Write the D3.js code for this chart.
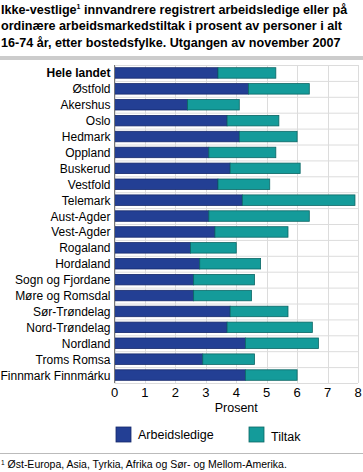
<!DOCTYPE html>
<html>
<head>
<meta charset="utf-8">
<script src="https://cdn.jsdelivr.net/npm/d3@7"></script>
<style>
  body { margin: 0; background: #fff; }
  svg { display: block; font-family: "Liberation Sans", Arial, sans-serif; }
</style>
</head>
<body>
<svg id="chart" width="363" height="472"></svg>
<script>
"use strict";

// Data
const fylker = [
  "Hele landet", "Østfold", "Akershus", "Oslo", "Hedmark", "Oppland",
  "Buskerud", "Vestfold", "Telemark", "Aust-Agder", "Vest-Agder", "Rogaland",
  "Hordaland", "Sogn og Fjordane", "Møre og Romsdal", "Sør-Trøndelag",
  "Nord-Trøndelag", "Nordland", "Troms Romsa", "Finnmark Finnmárku"
];
const arbeidsledige = [3.4, 4.4, 2.4, 3.7, 4.1, 3.1, 3.8, 3.4, 4.2, 3.1, 3.3, 2.5, 2.8, 2.6, 2.6, 3.8, 3.7, 4.3, 2.9, 4.3];
const tiltak        = [1.9, 2.0, 1.7, 1.7, 1.9, 2.2, 2.3, 1.7, 3.7, 3.3, 2.4, 1.5, 2.0, 2.0, 1.9, 1.9, 2.8, 2.4, 1.7, 1.7];
const xTicks = [0, 1, 2, 3, 4, 5, 6, 7, 8];

const seriesNames = ["Arbeidsledige", "Tiltak"];
const colors = ["#233f94", "#149b9a"];
const strokes = ["#16286a", "#0b6664"];

const svg = d3.select("#chart");

// ── Title ──
const titleLines = [
  ["Ikke-vestlige", "1", " innvandrere registrert arbeidsledige eller på"],
  ["ordinære arbeidsmarkedstiltak i prosent av personer i alt"],
  ["16-74 år, etter bostedsfylke. Utgangen av november 2007"]
];
titleLines.forEach((parts, i) => {
  const t = svg.append("text")
    .attr("x", 1).attr("y", 13.5 + i * 16.5)
    .attr("font-size", "12.6px").attr("font-weight", "bold").attr("fill", "#000");
  if (parts.length === 3) {
    t.append("tspan").text(parts[0]);
    t.append("tspan").attr("font-size", "7px").attr("dy", -5).text(parts[1]);
    t.append("tspan").attr("dy", 5).text(parts[2]);
  } else {
    t.text(parts[0]);
  }
});
svg.append("rect").attr("x", 0).attr("y", 56).attr("width", 363).attr("height", 4).attr("fill", "#cccccc");

// ── Plot ──
const x0 = 114.5, x1 = 358, yTop = 65, yBot = 383;
const x = d3.scaleLinear().domain([0, 8]).range([x0, x1]);
const y = d3.scaleBand().domain(fylker).range([yTop, yBot]).paddingInner(0.34).paddingOuter(0.17);

const g = svg.append("g");

// horizontal grid at band boundaries
const step = y.step();
g.selectAll(".hgrid").data(d3.range(fylker.length + 1)).join("line")
  .attr("x1", x0).attr("x2", x1)
  .attr("y1", i => yTop + i * step + 0.5).attr("y2", i => yTop + i * step + 0.5)
  .attr("stroke", "#dcdcdc").attr("stroke-width", 1);

// vertical grid
g.selectAll(".vgrid").data(xTicks).join("line")
  .attr("x1", d => Math.round(x(d)) + 0.5).attr("x2", d => Math.round(x(d)) + 0.5)
  .attr("y1", yTop).attr("y2", yBot)
  .attr("stroke", "#dcdcdc").attr("stroke-width", 1);

// stacked bars
const rows = fylker.map((f, i) => ({ f, vals: [arbeidsledige[i], tiltak[i]] }));
rows.forEach(r => {
  let acc = 0;
  r.vals.forEach((v, k) => {
    g.append("rect")
      .attr("x", x(acc)).attr("y", y(r.f))
      .attr("width", x(acc + v) - x(acc)).attr("height", y.bandwidth())
      .attr("fill", colors[k]).attr("stroke", strokes[k]).attr("stroke-width", 0.8);
    acc += v;
  });
});

// left axis line
g.append("line").attr("x1", x0).attr("x2", x0).attr("y1", yTop).attr("y2", yBot)
  .attr("stroke", "#777").attr("stroke-width", 1);

// category labels
g.selectAll(".cat").data(fylker).join("text")
  .attr("x", x0 - 4).attr("y", d => y(d) + y.bandwidth() / 2 + 4.5)
  .attr("text-anchor", "end").attr("font-size", "12px").attr("fill", "#000")
  .attr("font-weight", (d, i) => i === 0 ? "bold" : "normal")
  .text(d => d);

// x tick labels
g.selectAll(".xt").data(xTicks).join("text")
  .attr("x", d => x(d)).attr("y", yBot + 14)
  .attr("text-anchor", "middle").attr("font-size", "13px").attr("fill", "#000")
  .text(d => d);

svg.append("text").attr("x", x(4)).attr("y", 412)
  .attr("text-anchor", "middle").attr("font-size", "12.5px").text("Prosent");

// ── Legend ──
const legX = [116, 249];
seriesNames.forEach((n, k) => {
  svg.append("rect").attr("x", legX[k]).attr("y", 427).attr("width", 15).attr("height", 15)
    .attr("fill", colors[k]).attr("stroke", strokes[k]).attr("stroke-width", 0.8);
  svg.append("text").attr("x", legX[k] + 22).attr("y", k === 0 ? 439 : 441)
    .attr("font-size", "12.5px").text(n);
});

svg.append("line").attr("x1", 0).attr("x2", 363).attr("y1", 453.5).attr("y2", 453.5)
  .attr("stroke", "#bbbbbb").attr("stroke-width", 1);

const fn = svg.append("text").attr("x", 1).attr("y", 468).attr("font-size", "10.5px");
fn.append("tspan").attr("font-size", "6.5px").attr("dy", -3).text("1");
fn.append("tspan").attr("dy", 3).text(" Øst-Europa, Asia, Tyrkia, Afrika og Sør- og Mellom-Amerika.");
</script>
</body>
</html>
